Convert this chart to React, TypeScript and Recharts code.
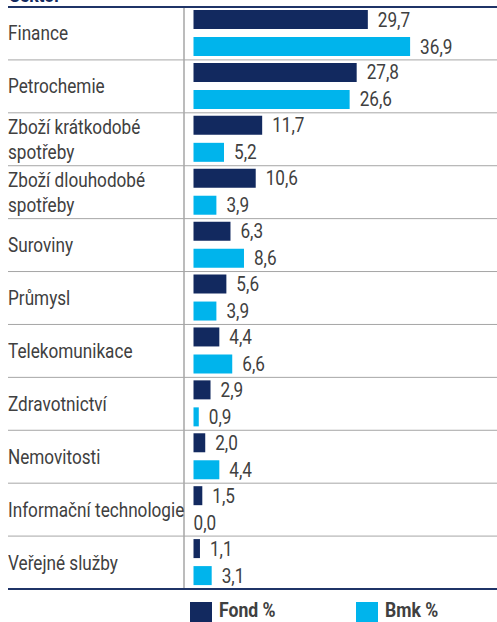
import { BarChart, Bar, XAxis, YAxis, LabelList } from 'recharts'

const CATEGORIES = [
  'Finance',
  'Petrochemie',
  'Zboží krátkodobé\nspotřeby',
  'Zboží dlouhodobé\nspotřeby',
  'Suroviny',
  'Průmysl',
  'Telekomunikace',
  'Zdravotnictví',
  'Nemovitosti',
  'Informační technologie',
  'Veřejné služby',
]
const FOND = [29.7, 27.8, 11.7, 10.6, 6.3, 5.6, 4.4, 2.9, 2.0, 1.5, 1.1]
const BMK = [36.9, 26.6, 5.2, 3.9, 8.6, 3.9, 6.6, 0.9, 4.4, 0.0, 3.1]
const SERIES = [
  { key: 'fond', name: 'Fond %', color: '#12295F' },
  { key: 'bmk', name: 'Bmk %', color: '#00B4EC' },
]

const data = CATEGORIES.map((sektor, i) => ({ sektor, fond: FOND[i], bmk: BMK[i] }))

const W = 489
const H = 622
const TOP = 7
const BOTTOM = 33
const PLOT_LEFT = 185.5
const PLOT_W = 234.8
const BAND = (H - TOP - BOTTOM) / CATEGORIES.length
const SEP_X = 176
const FONT = "Roboto, 'Noto Sans', sans-serif"
const SX = 0.88 // squeeze Roboto towards the narrow face of the original
const TEXT = '#404040'
const NAVY_LINE = '#1F3467'
const GRID = '#A6A6A6'

const fmt = (v: number) => v.toFixed(1).replace('.', ',')

// eslint-disable-next-line @typescript-eslint/no-explicit-any
function SektorTick({ y, payload, index }: any) {
  const lines = String(payload.value).split('\n')
  const top = y - BAND / 2
  const bottom = y + BAND / 2
  const lh = 25
  return (
    <g>
      {index > 0 && <line x1={0} x2={W} y1={top} y2={top} stroke={GRID} strokeWidth={1} />}
      <line x1={SEP_X} x2={SEP_X} y1={top} y2={bottom} stroke={GRID} strokeWidth={1.5} />
      {index === 0 && <line x1={0} x2={W} y1={top} y2={top} stroke={NAVY_LINE} strokeWidth={2} />}
      {index === CATEGORIES.length - 1 && (
        <line x1={0} x2={W} y1={bottom} y2={bottom} stroke={NAVY_LINE} strokeWidth={2} />
      )}
      <text transform={`scale(${SX},1)`} x={0} y={y} fill={TEXT} fontSize={19.5} fontFamily={FONT}>
        {lines.map((l, i) => (
          <tspan key={i} x={0} y={y + (i - (lines.length - 1) / 2) * lh} dy="0.36em">{l}</tspan>
        ))}
      </text>
    </g>
  )
}

// eslint-disable-next-line @typescript-eslint/no-explicit-any
function ValueLabel({ x, y, width, height, value }: any) {
  const v = Number(value)
  const tx = v > 0 ? x + width + 10 : x
  return (
    <text transform={`scale(${SX},1)`} x={tx / SX} y={y + height / 2} dy="0.36em" fill={TEXT} fontSize={19.5} fontFamily={FONT}>
      {fmt(v)}
    </text>
  )
}

export default function App() {
  return (
    <div style={{ position: 'relative', marginLeft: 8, width: W, height: H, overflow: 'hidden' }}>
      <style>{'html,body{margin:0;overflow:hidden}'}</style>
      <BarChart
        width={W}
        height={H}
        data={data}
        layout="vertical"
        margin={{ top: TOP, bottom: BOTTOM, left: 0, right: W - PLOT_LEFT - PLOT_W }}
        barCategoryGap={3}
        barGap={8}
      >
        <text transform={`scale(${SX},1)`} x={1} y={1.5} fill="#12295F" fontSize={20} fontWeight={700} fontFamily={FONT}>Sektor</text>
        <XAxis type="number" domain={[0, 40]} hide />
        <YAxis
          type="category"
          dataKey="sektor"
          width={PLOT_LEFT}
          axisLine={false}
          tickLine={false}
          interval={0}
          tick={<SektorTick />}
        />
        {SERIES.map(s => (
          <Bar key={s.key} dataKey={s.key} name={s.name} fill={s.color} minPointSize={0.01} isAnimationActive={false}>
            <LabelList dataKey={s.key} content={<ValueLabel />} />
          </Bar>
        ))}
      </BarChart>
      <div style={{ position: 'absolute', top: 602, left: 0, width: W, height: 22 }}>
        {SERIES.map((s, i) => (
          <div
            key={s.key}
            style={{ position: 'absolute', left: i === 0 ? 182 : 348, top: 0, display: 'flex', alignItems: 'flex-start' }}
          >
            <div style={{ width: 22, height: 22, background: s.color, flex: 'none' }} />
            <span style={{
              marginLeft: 7, marginTop: -3, fontFamily: FONT, fontWeight: 700, fontSize: 20,
              color: TEXT, lineHeight: '22px', whiteSpace: 'nowrap',
              display: 'inline-block', transform: `scaleX(${SX})`, transformOrigin: 'left top',
            }}>{s.name}</span>
          </div>
        ))}
      </div>
    </div>
  )
}
